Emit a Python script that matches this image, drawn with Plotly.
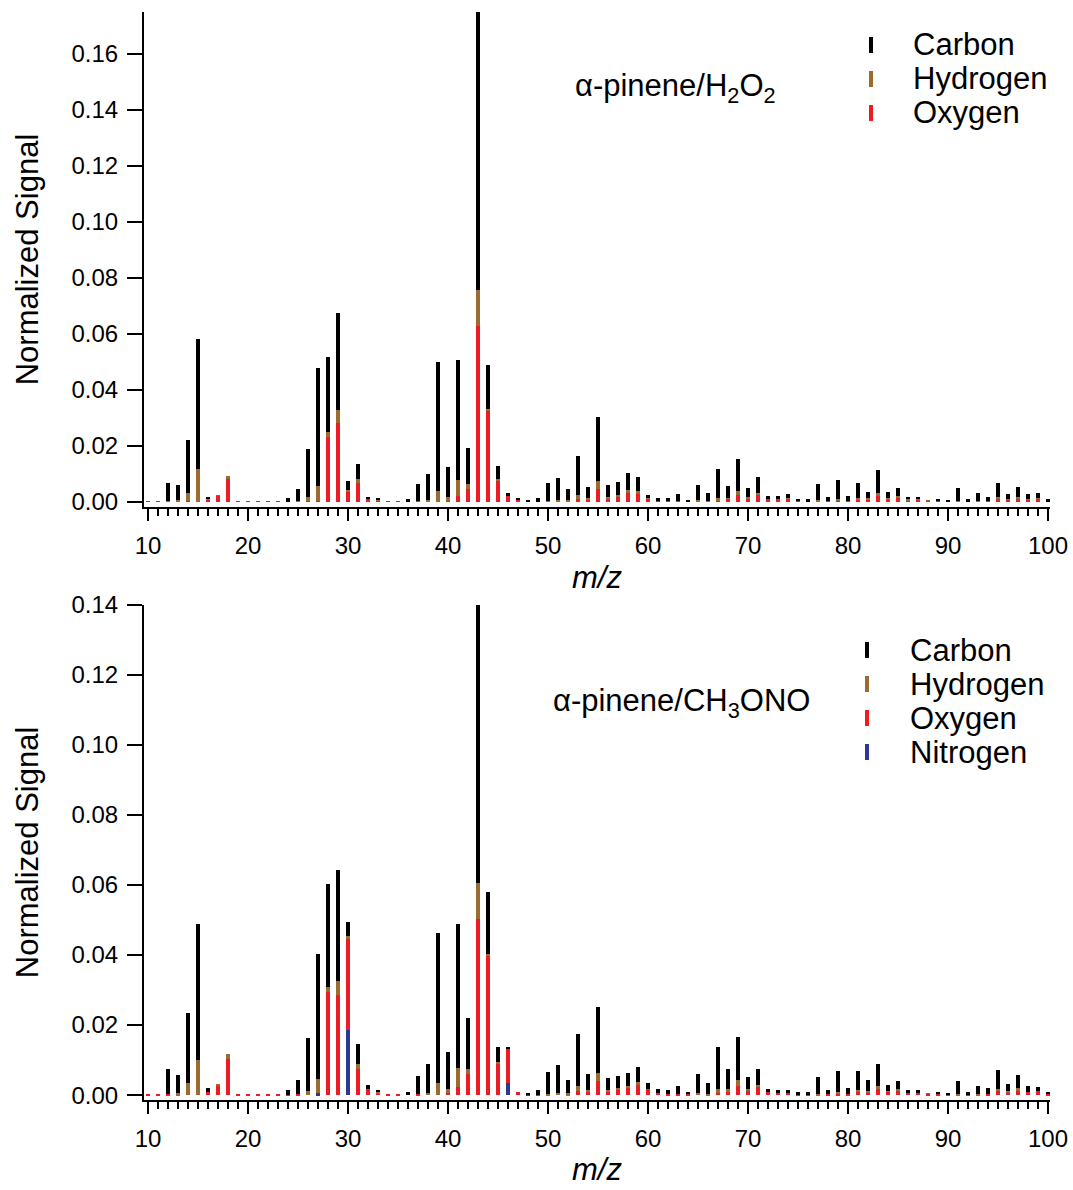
import plotly.graph_objects as go

# ---------------- data ----------------
mz = list(range(10, 101))

# alpha-pinene / H2O2  (m/z 10 ... 100)
h2o2_C = [0, 0, 0.0064, 0.0053, 0.0188, 0.0464, 0.0008, 0, 0, 0,
          0, 0, 0, 0, 0.0013, 0.0043, 0.0171, 0.0421, 0.0269, 0.0345,
          0.0032, 0.0053, 0.0005, 0.0003, 0, 0, 0.0011, 0.0061, 0.0093, 0.0462,
          0.0106, 0.0427, 0.0130, 0.1000, 0.0157, 0.0048, 0.0008, 0.0001, 0.0003, 0.0013,
          0.0063, 0.0078, 0.0040, 0.0140, 0.0039, 0.0230, 0.0044, 0.0045, 0.0061, 0.0049,
          0.0009, 0.0009, 0.0011, 0.0024, 0.0007, 0.0054, 0.0030, 0.0104, 0.0042, 0.0115,
          0.0033, 0.0055, 0.0010, 0.0011, 0.0015, 0.0008, 0.0007, 0.0057, 0.0016, 0.0067,
          0.0018, 0.0053, 0.0021, 0.0080, 0.0020, 0.0030, 0.0008, 0.0008, 0, 0.0008,
          0.0006, 0.0045, 0.0010, 0.0027, 0.0016, 0.0049, 0.0017, 0.0033, 0.0017, 0.0017,
          0.0007]
h2o2_H = [0, 0, 0.0003, 0.0007, 0.0030, 0.0118, 0.0003, 0.0002, 0.0012, 0,
          0, 0, 0, 0, 0, 0.0002, 0.0016, 0.0053, 0.0017, 0.0046,
          0.0007, 0.0014, 0.0001, 0.0003, 0, 0, 0, 0, 0.0007, 0.0037,
          0.0016, 0.0059, 0.0017, 0.0130, 0.0008, 0.0008, 0, 0, 0, 0,
          0.0004, 0.0007, 0.0005, 0.0014, 0.0003, 0.0027, 0.0006, 0.0007, 0.0012, 0.0010,
          0.0002, 0, 0, 0, 0, 0.0005, 0.0003, 0.0012, 0.0004, 0.0015,
          0.0006, 0.0009, 0, 0, 0.0002, 0, 0, 0.0005, 0, 0.0008,
          0, 0.0006, 0.0005, 0.0012, 0.0005, 0.0003, 0.0002, 0.0001, 0.0001, 0,
          0, 0.0005, 0, 0.0004, 0, 0.0008, 0.0002, 0.0007, 0.0002, 0.0002,
          0]
h2o2_O = [0.0002, 0.0002, 0.0001, 0, 0.0003, 0, 0.0008, 0.0022, 0.0081, 0.0002,
          0.0002, 0.0002, 0.0003, 0.0002, 0.0001, 0.0001, 0.0002, 0.0003, 0.0233, 0.0283,
          0.0036, 0.0069, 0.0011, 0.0005, 0.0003, 0.0003, 0.0001, 0.0003, 0.0001, 0.0001,
          0.0003, 0.0020, 0.0046, 0.0627, 0.0325, 0.0074, 0.0023, 0.0010, 0.0001, 0.0001,
          0.0001, 0.0001, 0.0001, 0.0010, 0.0010, 0.0048, 0.0012, 0.0018, 0.0031, 0.0029,
          0.0013, 0.0005, 0.0003, 0.0003, 0.0001, 0.0001, 0, 0.0002, 0.0012, 0.0024,
          0.0012, 0.0024, 0.0010, 0.0009, 0.0012, 0.0004, 0.0003, 0.0001, 0.0003, 0.0002,
          0.0003, 0.0010, 0.0010, 0.0021, 0.0010, 0.0017, 0.0007, 0.0008, 0.0004, 0.0002,
          0.0002, 0, 0.0001, 0, 0.0002, 0.0010, 0.0010, 0.0012, 0.0010, 0.0012,
          0.0003]

# alpha-pinene / CH3ONO  (m/z 10 ... 100)
ono_C = [0, 0, 0.0074, 0.0052, 0.0202, 0.0388, 0.0010, 0, 0, 0,
         0, 0, 0, 0, 0.0013, 0.0041, 0.0149, 0.0357, 0.0294, 0.0317,
         0.0041, 0.0055, 0.0012, 0.0005, 0, 0, 0.0010, 0.0053, 0.0083, 0.0426,
         0.0105, 0.0413, 0.0143, 0.0820, 0.0176, 0.0043, 0.0005, 0, 0.0002, 0.0013,
         0.0062, 0.0078, 0.0038, 0.0148, 0.0044, 0.0190, 0.0034, 0.0036, 0.0036, 0.0041,
         0.0016, 0.0010, 0.0012, 0.0024, 0.0006, 0.0053, 0.0032, 0.0121, 0.0057, 0.0124,
         0.0035, 0.0045, 0.0010, 0.0009, 0.0009, 0.0005, 0.0005, 0.0047, 0.0014, 0.0062,
         0.0018, 0.0055, 0.0029, 0.0064, 0.0018, 0.0023, 0.0009, 0.0009, 0, 0.0007,
         0.0004, 0.0035, 0.0009, 0.0024, 0.0017, 0.0056, 0.0021, 0.0038, 0.0016, 0.0013,
         0.0007]
ono_H = [0, 0, 0, 0.0005, 0.0034, 0.0100, 0, 0.0002, 0.0013, 0,
         0, 0, 0, 0, 0, 0, 0.0013, 0.0042, 0.0013, 0.0039,
         0.0007, 0.0014, 0, 0.0003, 0, 0, 0, 0, 0.0007, 0.0036,
         0.0011, 0.0055, 0.0016, 0.0103, 0.0006, 0.0007, 0, 0, 0, 0,
         0.0004, 0.0007, 0.0005, 0.0015, 0.0005, 0.0022, 0.0005, 0.0006, 0.0007, 0.0008,
         0, 0, 0, 0, 0, 0.0006, 0.0004, 0.0010, 0.0007, 0.0016,
         0.0006, 0.0007, 0, 0, 0, 0, 0, 0.0004, 0, 0.0006,
         0, 0.0007, 0.0005, 0.0009, 0.0002, 0.0004, 0, 0, 0.0001, 0,
         0, 0.0004, 0, 0.0002, 0, 0.0006, 0.0004, 0.0005, 0, 0,
         0]
ono_O = [0.0002, 0.0002, 0.0002, 0, 0, 0, 0.0009, 0.0028, 0.0104, 0.0002,
         0.0002, 0.0002, 0.0003, 0.0003, 0.0001, 0.0002, 0, 0, 0.0296, 0.0287,
         0.0261, 0.0076, 0.0017, 0.0006, 0.0003, 0.0003, 0, 0.0002, 0, 0,
         0.0007, 0.0022, 0.0060, 0.0502, 0.0397, 0.0088, 0.0097, 0.0008, 0, 0.0001,
         0, 0, 0, 0.0011, 0.0010, 0.0040, 0.0010, 0.0014, 0.0019, 0.0030,
         0.0018, 0.0007, 0.0003, 0.0002, 0.0002, 0, 0, 0.0007, 0.0010, 0.0027,
         0.0011, 0.0023, 0.0008, 0.0007, 0.0007, 0.0003, 0.0003, 0, 0.0002, 0.0002,
         0.0003, 0.0008, 0.0008, 0.0017, 0.0010, 0.0013, 0.0007, 0.0007, 0.0005, 0.0002,
         0.0002, 0, 0.0001, 0, 0.0002, 0.0011, 0.0008, 0.0014, 0.0010, 0.0011,
         0.0003]
ono_N = [0, 0, 0, 0, 0, 0, 0, 0, 0, 0,
         0, 0, 0, 0, 0, 0, 0, 0.0005, 0, 0,
         0.0186, 0, 0, 0, 0, 0, 0, 0, 0, 0,
         0, 0, 0, 0, 0, 0, 0.0036, 0, 0.0002, 0,
         0, 0, 0, 0, 0, 0, 0, 0, 0, 0,
         0, 0, 0, 0, 0, 0, 0, 0, 0, 0,
         0, 0, 0, 0, 0, 0, 0, 0, 0, 0,
         0, 0, 0, 0, 0, 0, 0, 0, 0, 0,
         0, 0, 0, 0, 0, 0, 0, 0, 0, 0,
         0]

x_ticks = [10, 20, 30, 40, 50, 60, 70, 80, 90, 100]
y_ticks_top = [0.00, 0.02, 0.04, 0.06, 0.08, 0.10, 0.12, 0.14, 0.16]
y_ticks_bot = [0.00, 0.02, 0.04, 0.06, 0.08, 0.10, 0.12, 0.14]

COL = {"Carbon": "#000000", "Hydrogen": "#9B6B2F", "Oxygen": "#ED1C24", "Nitrogen": "#2B3990"}
FONT = "Arial, Liberation Sans, sans-serif"
BW = 0.45
TXT = 31

W, H = 1073, 1190
ML, MR, MT, MB = 144, 23, 12, 90

fig = go.Figure()

def add_bar(y, name, xa, ya):
    fig.add_trace(go.Bar(x=mz, y=y, name=name, width=BW, xaxis=xa, yaxis=ya,
                         marker=dict(color=COL[name], line=dict(width=0)),
                         showlegend=False))

# stacking order bottom->top: N, O, H, C
add_bar(h2o2_O, "Oxygen", "x", "y")
add_bar(h2o2_H, "Hydrogen", "x", "y")
add_bar(h2o2_C, "Carbon", "x", "y")

add_bar(ono_N, "Nitrogen", "x2", "y2")
add_bar(ono_O, "Oxygen", "x2", "y2")
add_bar(ono_H, "Hydrogen", "x2", "y2")
add_bar(ono_C, "Carbon", "x2", "y2")

axis_common = dict(showline=True, linecolor="black", linewidth=2, ticks="outside",
                   tickcolor="black", tickwidth=2, showgrid=False, zeroline=False,
                   automargin=False,
                   tickfont=dict(family=FONT, size=24, color="black"))

xcommon = dict(axis_common, range=[9.6, 100.2], tickvals=x_ticks, ticklen=12,
               ticklabelstandoff=4,
               minor=dict(dtick=1, tick0=10, ticks="outside", ticklen=7, tickwidth=2,
                          tickcolor="black", showgrid=False),
               title=dict(text="<i>m/z</i>", font=dict(family=FONT, size=TXT, color="black"),
                          standoff=8))
ycommon = dict(axis_common, ticklen=15, ticklabelstandoff=4, tickformat=".2f",
               title=dict(text="Normalized Signal", font=dict(family=FONT, size=TXT, color="black"),
                          standoff=24))

fig.update_layout(
    width=W, height=H,
    margin=dict(l=ML, r=MR, t=MT, b=MB, autoexpand=False),
    barmode="stack", bargap=0,
    plot_bgcolor="white", paper_bgcolor="white",
    xaxis=dict(xcommon, domain=[0, 1], anchor="y"),
    yaxis=dict(ycommon, domain=[0.545, 1], anchor="x", range=[-0.0018, 0.175], tickvals=y_ticks_top),
    xaxis2=dict(xcommon, domain=[0, 1], anchor="y2"),
    yaxis2=dict(ycommon, domain=[0, 0.455], anchor="x2", range=[-0.0014, 0.14], tickvals=y_ticks_bot),
    font=dict(family=FONT, color="black"),
)

# ---- helpers to place legend/labels at page-pixel positions ----
PW, PH = W - ML - MR, H - MT - MB
def px(xp):
    return (xp - ML) / PW
def py(yp):
    return (H - MB - yp) / PH

shapes = []
annots = []

def legend_block(items, bar_x, text_x, y0, step):
    for i, name in enumerate(items):
        yc = y0 + i * step
        shapes.append(dict(type="rect", xref="paper", yref="paper",
                           x0=px(bar_x - 2), x1=px(bar_x + 2), y0=py(yc + 8), y1=py(yc - 8),
                           fillcolor=COL[name], line=dict(width=0)))
        annots.append(dict(text=name, xref="paper", yref="paper", x=px(text_x), y=py(yc),
                           xanchor="left", yanchor="middle", showarrow=False,
                           font=dict(family=FONT, size=TXT, color="black")))

legend_block(["Carbon", "Hydrogen", "Oxygen"], 871, 911, 45, 34)
legend_block(["Carbon", "Hydrogen", "Oxygen", "Nitrogen"], 867, 908, 650, 34)

annots.append(dict(text="α-pinene/H<sub>2</sub>O<sub>2</sub>", xref="paper", yref="paper",
                   x=px(573), y=py(88), xanchor="left", yanchor="middle", showarrow=False,
                   font=dict(family=FONT, size=TXT, color="black")))
annots.append(dict(text="α-pinene/CH<sub>3</sub>ONO", xref="paper", yref="paper",
                   x=px(551), y=py(703), xanchor="left", yanchor="middle", showarrow=False,
                   font=dict(family=FONT, size=TXT, color="black")))

fig.update_layout(shapes=shapes, annotations=annots)

# remove the default 8px page margin so the figure sits exactly in the window
fig.write_html("out.html",
               config={"displayModeBar": False},
               post_script="document.body.style.margin='0px';document.body.style.overflow='hidden';")
